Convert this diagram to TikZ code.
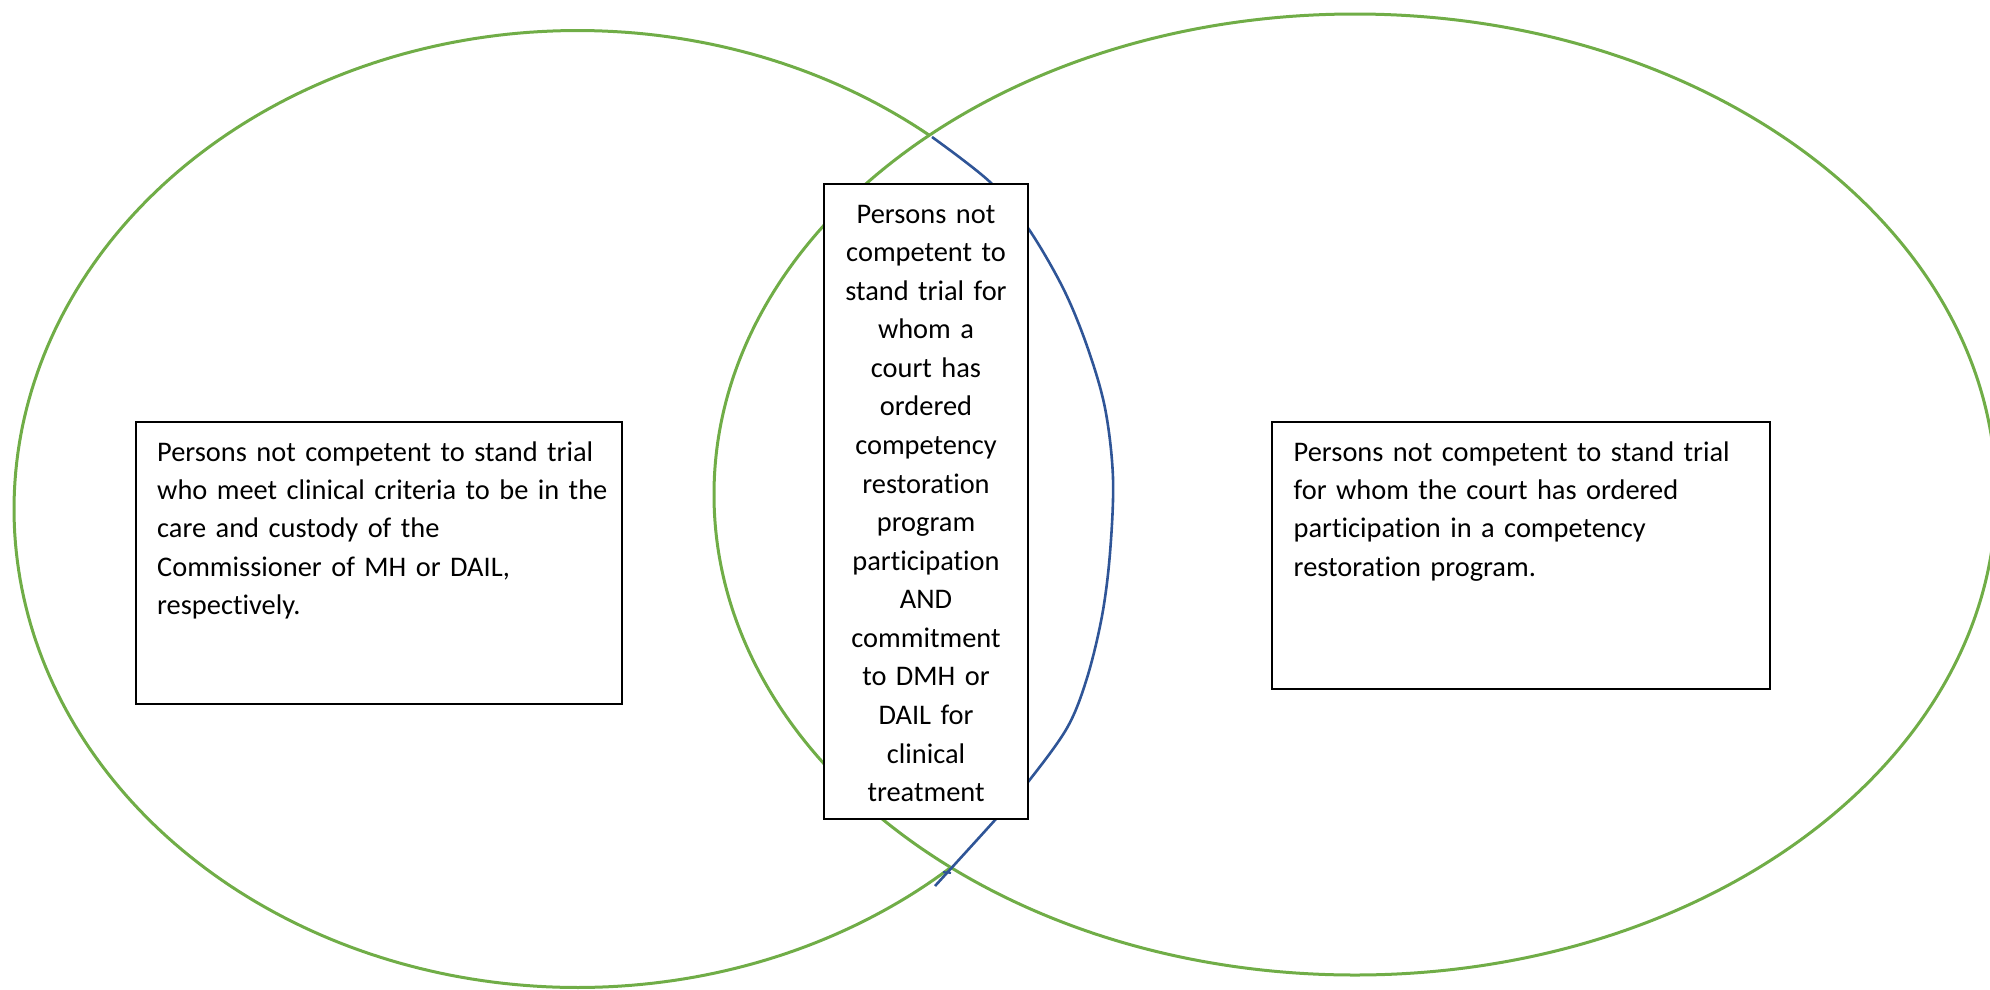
\documentclass[tikz,border=0pt]{standalone}
\usepackage{fontspec}
\setmainfont{Carlito}[Ligatures=NoCommon]
\definecolor{vgreen}{RGB}{112,173,71}
\definecolor{vblue}{RGB}{47,85,151}
\begin{document}
\begin{tikzpicture}[x=1pt,y=-1pt,
  ring/.style={draw=vgreen, line width=3pt},
  freeform/.style={draw=vblue, line width=2.6pt, line join=round},
  textbox/.style={draw=black, fill=white, line width=2.7pt, inner sep=0pt, outer sep=0pt},
  sidetext/.style={inner sep=0pt, font=\fontsize{28.4}{38.1}\selectfont, align=left, text width=480pt, anchor=base west},
  midtext/.style={inner sep=0pt, font=\fontsize{28.4}{38.58}\selectfont, align=center, text width=200pt, anchor=base}]
\useasboundingbox (0,0) rectangle (1990,989);
\clip (0,0) rectangle (1990,989);
% right set
\draw[ring] (1355,494.5) ellipse[x radius=641pt, y radius=480.5pt];
% left set (green part)
\draw[ring] plot[domain=-51.4:-311.4, samples=240, variable=\t]
  ({577.5+563.5*cos(\t)},{509+478.5*sin(\t)});
% left set (blue part)
\draw[freeform] plot[smooth, tension=0.55] coordinates {
  (932,137) (990,182) (1028,228) (1063,288) (1087,346) (1105,408)
  (1113,478) (1110,553) (1102,616) (1087,678) (1067,728) (1028,782)
  (995,820) (935,886)};
\draw[freeform, line width=2pt] (943,872) -- (951,873);
% boxes
\node[textbox, minimum width=486pt, minimum height=282pt] (leftbox) at (379,563) {};
\node[textbox, minimum width=498pt, minimum height=267pt] (rightbox) at (1521,555.5) {};
\node[textbox, minimum width=204pt, minimum height=635pt] (midbox) at (926,501.5) {};
% texts
\node[sidetext] (lefttext) at (157,461.7) {Persons not competent to stand trial\\who meet clinical criteria to be in the\\care and custody of the\\Commissioner of MH or DAIL,\\respectively.};
\node[sidetext] (righttext) at (1293.5,461.7) {Persons not competent to stand trial\\for whom the court has ordered\\participation in a competency\\restoration program.};
\node[midtext] (midtext) at (926,223) {Persons not\\competent to\\stand trial for\\whom a\\court has\\ordered\\competency\\restoration\\program\\participation\\AND\\commitment\\to DMH or\\DAIL for\\clinical\\treatment};
\end{tikzpicture}
\end{document}
